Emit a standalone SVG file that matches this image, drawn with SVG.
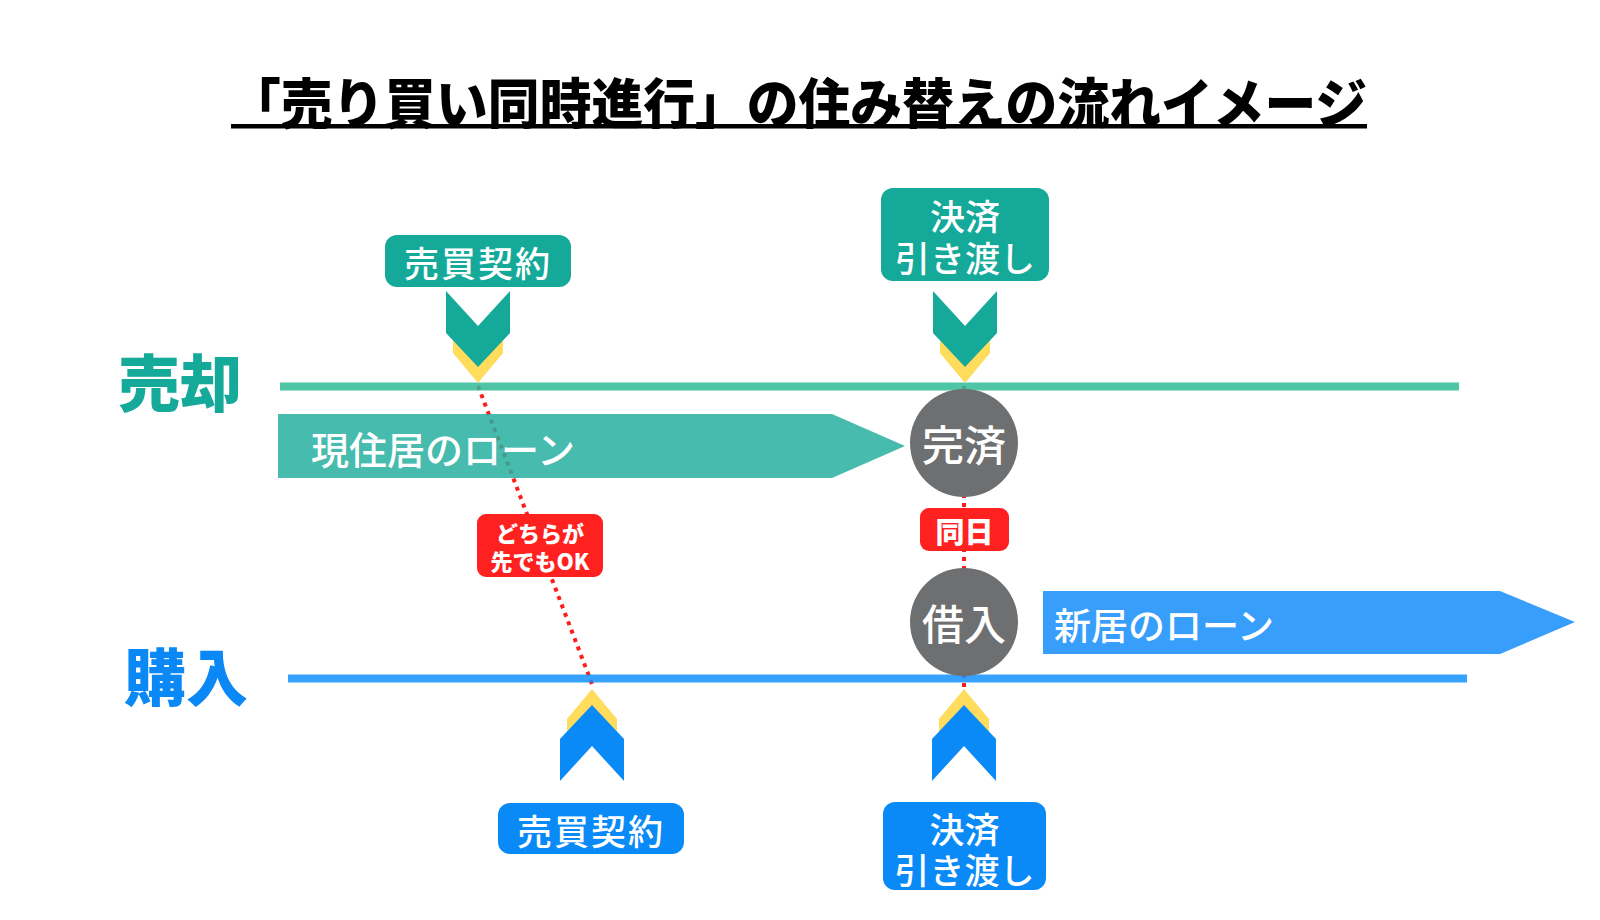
<svg xmlns="http://www.w3.org/2000/svg" width="1600" height="920" viewBox="0 0 1600 920">
<style>
text{font-family:"Noto Sans CJK JP","Noto Sans",sans-serif;dominant-baseline:central;text-anchor:middle}
.wt{fill:#fff;font-weight:500}
.tealbox{fill:#15a99a}
.bluebox{fill:#0a8af7}
.yel{fill:#ffdc5c}
.dot{stroke:#ff1c1c;stroke-width:4;stroke-dasharray:4 5;fill:none}
.circ{fill:#6e6f71}
.red{fill:#ff2020}
</style>
<rect width="1600" height="920" fill="#fff"/>

<g id="title">
<text x="798" y="100" font-size="54" font-weight="900" textLength="1138" lengthAdjust="spacingAndGlyphs" fill="#000">「売り買い同時進行」の住み替えの流れイメージ</text>
<rect x="231" y="124" width="1136" height="4.5" fill="#000"/>
</g>

<g id="connectors">
<line class="dot" x1="478" y1="386" x2="592" y2="684"/>
<line class="dot" x1="964" y1="386" x2="964" y2="688"/>
</g>

<g id="lane-sell">
<text x="180" y="380" font-size="62" font-weight="900" fill="#15a99a">売却</text>
<rect x="280" y="382.5" width="1179" height="8" fill="#2fbc97" opacity="0.85"/>
</g>
<g id="lane-buy">
<text x="186" y="674" font-size="62" font-weight="900" fill="#0a88f5">購入</text>
<rect x="288" y="674.5" width="1179" height="8" fill="#1390fe" opacity="0.85"/>
</g>

<g id="loan-current">
<polygon points="278,414 832,414 905,446 832,478 278,478" fill="#27af9f" opacity="0.85"/>
<text x="443" y="447" font-size="38" class="wt">現住居のローン</text>
</g>

<g id="loan-new">
<polygon points="1043,591 1500,591 1575,622 1500,654 1043,654" fill="#379efc"/>
<text x="1164" y="624" font-size="37" class="wt">新居のローン</text>
</g>

<g id="sell-contract">
<rect class="tealbox" x="385" y="235" width="186" height="52" rx="12"/>
<text x="478" y="261" font-size="35" letter-spacing="2" class="wt">売買契約</text>
<polygon class="yel" points="453,320 478,345 503,320 503,353 478,383 453,353"/>
<polygon class="tealbox" points="446,291 478,326 510,291 510,333 478,367 446,333"/>
</g>

<g id="sell-settle">
<rect class="tealbox" x="881" y="188" width="168" height="93" rx="12"/>
<text x="965" y="214" font-size="35" class="wt">決済</text>
<text x="965" y="256" font-size="35" class="wt">引き渡し</text>
<polygon class="yel" points="940,320 965,345 990,320 990,353 965,383 940,353"/>
<polygon class="tealbox" points="933,291 965,326 997,291 997,333 965,367 933,333"/>
</g>

<g id="paid-off">
<circle class="circ" cx="964" cy="443" r="54"/>
<text x="964" y="442" font-size="42" class="wt">完済</text>
</g>

<g id="same-day">
<rect class="red" x="920" y="508" width="89" height="43" rx="9"/>
<text x="964.5" y="530" font-size="29" font-weight="900" fill="#fff">同日</text>
</g>

<g id="borrow">
<circle class="circ" cx="964" cy="622" r="54"/>
<text x="964" y="621" font-size="42" class="wt">借入</text>
</g>

<g id="either-first">
<rect class="red" x="477" y="514" width="126" height="63" rx="9"/>
<text x="540" y="532" font-size="22" font-weight="900" fill="#fff">どちらが</text>
<text x="540" y="560" font-size="22" font-weight="900" fill="#fff">先でもOK</text>
</g>

<g id="buy-contract">
<polygon class="yel" points="567,719 592,689 617,719 617,745 592,730 567,745"/>
<polygon class="bluebox" points="560,739 592,705 624,739 624,781 592,746 560,781"/>
<rect class="bluebox" x="498" y="803" width="186" height="51" rx="12"/>
<text x="591" y="829" font-size="35" letter-spacing="2" class="wt">売買契約</text>
</g>

<g id="buy-settle">
<polygon class="yel" points="939,719 964,689 989,719 989,745 964,730 939,745"/>
<polygon class="bluebox" points="932,739 964,705 996,739 996,781 964,746 932,781"/>
<rect class="bluebox" x="883" y="802" width="163" height="88" rx="12"/>
<text x="964.5" y="827" font-size="35" class="wt">決済</text>
<text x="964.5" y="868" font-size="35" class="wt">引き渡し</text>
</g>
</svg>
